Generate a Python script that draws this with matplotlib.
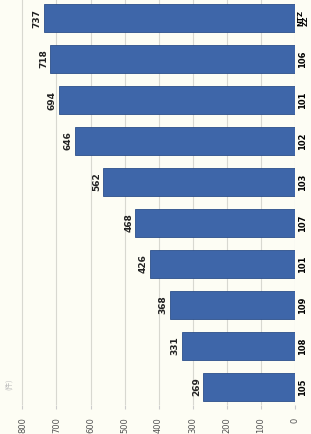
import matplotlib.pyplot as plt

# categories from bottom to top
categories = ['105', '108', '109', '101', '107', '103', '102', '101', '106', 'NTZ\nZZ']
values = [269, 331, 368, 426, 468, 562, 646, 694, 718, 737]
ticks = [0, 100, 200, 300, 400, 500, 600, 700, 800]

bg = '#fdfdf4'
bar_color = '#3e66a9'

fig = plt.figure(figsize=(3.11, 4.34), dpi=100, facecolor=bg)
ax = fig.add_axes([0.048, 0.067, 0.9, 0.933], facecolor=bg)

y = list(range(len(categories)))
bars = ax.barh(y, values, height=0.68, color=bar_color, edgecolor='#2c4f8a',
               linewidth=0.6, zorder=2)

ax.set_xlim(822, 0)
ax.set_ylim(-0.44, 9.44)

# vertical grid lines
ax.set_xticks(ticks)
ax.set_xticklabels([str(t) for t in ticks], rotation=90, fontsize=6,
                   color='#555555')
ax.grid(axis='x', color='#d8d8d0', linewidth=0.8, zorder=0)
ax.tick_params(axis='x', length=3, color='#cccccc', pad=6)

ax.set_yticks(y)
ax.set_yticklabels(categories, rotation=90, fontsize=6, fontweight='bold',
                   va='center', ha='left')
ax.yaxis.tick_right()
ax.tick_params(axis='y', length=0, pad=2)
top_label = ax.get_yticklabels()[-1]
top_label.set_fontsize(5)
top_label.set_linespacing(0.9)

for s in ax.spines.values():
    s.set_visible(False)

# value labels on the end of each bar
for bar, v in zip(bars, values):
    ax.text(v + 20, bar.get_y() + bar.get_height() / 2, str(v),
            rotation=90, ha='center', va='center', fontsize=6.5,
            fontweight='bold', color='#222222')

fig.text(0.03, 0.115, '(件)', rotation=90, fontsize=5, color='#bbbbbb',
         ha='center', va='center', family=['Noto Sans CJK SC', 'DejaVu Sans'])

fig.savefig('out.png', dpi=100, facecolor=bg)
